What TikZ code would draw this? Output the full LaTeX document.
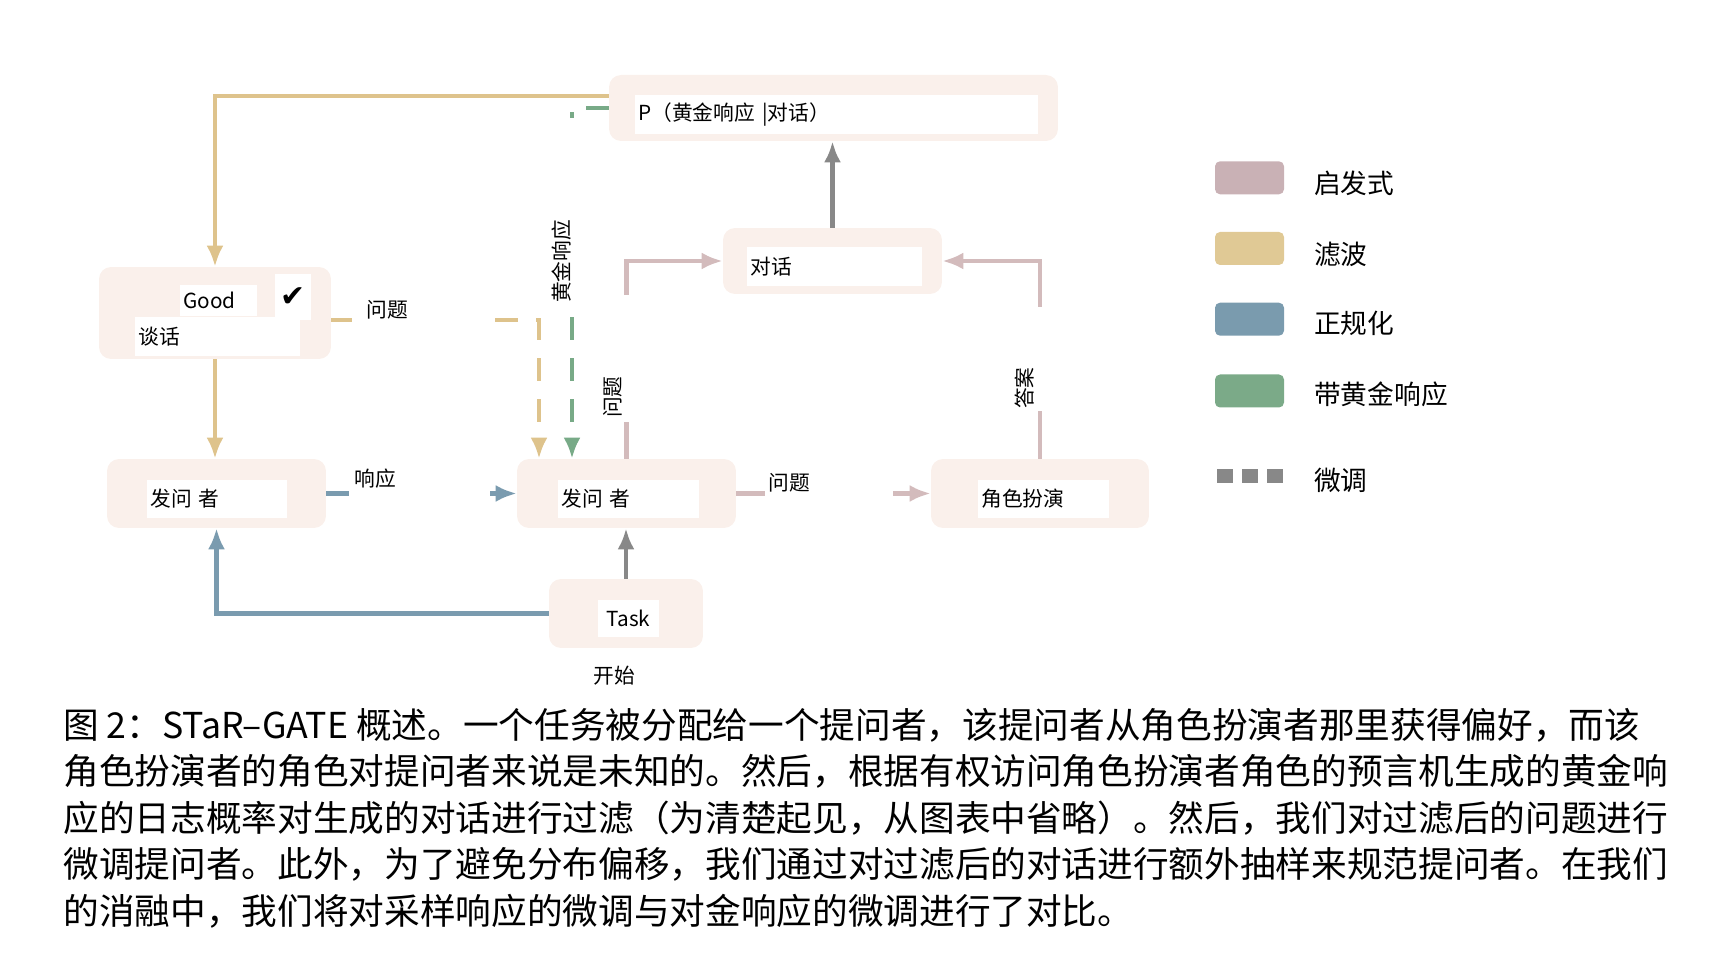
\documentclass[tikz,border=0pt]{standalone}
\usepackage{fontspec}
\setmainfont{Noto Sans CJK SC}
\newfontfamily\symfont{DejaVu Sans}
\usetikzlibrary{arrows.meta}

\definecolor{boxbg}{HTML}{FAF0EB}
\definecolor{heurpink}{HTML}{D3BBBC}
\definecolor{filtyellow}{HTML}{DEC38C}
\definecolor{regblue}{HTML}{7A9BAF}
\definecolor{goldgreen}{HTML}{78AA87}
\definecolor{tunegray}{HTML}{888888}
\definecolor{lgpink}{HTML}{C9B1B5}
\definecolor{lgyellow}{HTML}{E0C995}
\definecolor{lgblue}{HTML}{7A9BAE}
\definecolor{lggreen}{HTML}{7BAA88}

\begin{document}
\begin{tikzpicture}[x=0.02cm, y=-0.02cm, >={Latex[length=0.42cm, width=0.34cm]},
    font=\fontsize{11.8}{14}\selectfont,
    outer/.style={fill=boxbg, rounded corners=0.24cm, inner sep=0pt, minimum height=1.38cm},
    inrect/.style={fill=white, anchor=west, inner xsep=0.06cm, inner ysep=0pt, minimum height=0.78cm, align=left},
    flow/.style={line width=2.3pt},
    tune/.style={dash pattern=on 0.46cm off 0.36cm},
    lbl/.style={fill=white, inner ysep=0pt, align=left},
    swatch/.style={rounded corners=0.1cm, minimum width=1.38cm, minimum height=0.66cm, inner sep=0pt},
    legtext/.style={anchor=west, font=\fontsize{15.2}{18}\selectfont}]
    % 画布范围
    \useasboundingbox (0,0) rectangle (1732,962);

    % 1. 各个框
    \node[outer, minimum width=8.98cm, minimum height=1.32cm] (prob) at (833.5,108) {};
    \node[inrect, text width=7.94cm] (probtxt) at (635,114.5) {P（黄金响应 |对话）};

    \node[outer, minimum width=4.38cm, minimum height=1.32cm] (dlg) at (832.5,261) {};
    \node[inrect, text width=3.38cm] (dlgtxt) at (747,266.5) {对话};

    \node[outer, minimum width=4.64cm, minimum height=1.84cm] (good) at (215,313) {};
    \node[inrect, text width=1.42cm, minimum height=0.62cm] (goodtxt) at (180,300.5) {Good};
    \node[inrect, text width=3.18cm] (talktxt) at (135,336.5) {谈话};
    \node[fill=white, minimum width=0.72cm, minimum height=0.92cm, inner sep=0pt,
          font=\symfont\fontsize{17}{17}\selectfont] (checktxt) at (293,297) {✔};

    \node[outer, minimum width=4.38cm] (q1) at (216.5,493.5) {};
    \node[inrect, text width=2.68cm] (q1txt) at (147,499) {发问 者};

    \node[outer, minimum width=4.38cm] (q2) at (626.5,493.5) {};
    \node[inrect, text width=2.70cm] (q2txt) at (558,499) {发问 者};

    \node[outer, minimum width=4.36cm] (rp) at (1040,493.5) {};
    \node[inrect, text width=2.50cm] (rptxt) at (978,499) {角色扮演};

    \node[outer, minimum width=3.08cm] (tk) at (626,613.5) {};
    \node[fill=white, minimum width=1.22cm, minimum height=0.74cm, inner sep=0pt] (tktxt) at (628.5,618.5) {Task};
    \node (startlab) at (614,676) {开始};

    % 2. 连线
    \draw[flow, filtyellow, ->] ([yshift=0.24cm]prob.west) -| (good.north);
    \draw[flow, goldgreen, tune, ->] (prob.west) -| ([xshift=-1.09cm]q2.north);
    \draw[flow, filtyellow, tune, ->] ([yshift=-0.14cm]good.east) -| ([xshift=-1.75cm]q2.north);
    \draw[flow, filtyellow, ->] (good.south) -- (good.south |- q1.north);
    \draw[flow, regblue, ->] (tk.west) -| (q1.south);
    \draw[flow, regblue, tune, ->] (q1.east) -- (q2.west);
    \draw[flow, tunegray, line width=2.6pt, ->] (tk.north) -- (tk.north |- q2.south);
    \draw[flow, tunegray, line width=2.6pt, ->] (dlg.north) -- (dlg.north |- prob.south);
    \draw[flow, heurpink, ->] (q2.north) |- (dlg.west);
    \draw[flow, heurpink, ->] (rp.north) |- (dlg.east);
    \draw[flow, heurpink, ->] (q2.east) -- (rp.west);

    % 3. 连线上的标签
    \node[lbl, anchor=west, text width=2.14cm, inner xsep=0.28cm, minimum height=0.9cm] (qlab1) at (352,310) {问题};
    \node[lbl, rotate=90, text width=3.66cm, inner xsep=0.04cm, minimum height=0.7cm] (goldlab) at (562,211.5) {黄金响应};
    \node[lbl, rotate=90, text width=2.38cm, inner xsep=0.08cm, minimum height=0.8cm] (qlab2) at (613,358.5) {问题};
    \node[lbl, rotate=90, text width=2.0cm, inner xsep=0.04cm, minimum height=0.9cm] (anslab) at (1025,359) {答案};
    \node[lbl, anchor=west, text width=2.5cm, inner xsep=0.08cm, minimum height=0.9cm] (resplab) at (350,479) {响应};
    \node[lbl, anchor=west, text width=2.44cm, inner xsep=0.06cm, minimum height=0.9cm] (qlab3) at (765,483) {问题};

    % 4. 图例
    \node[swatch, fill=lgpink] (sw1) at (1249.5,177.8) {};
    \node[swatch, fill=lgyellow] (sw2) at (1249.5,248.5) {};
    \node[swatch, fill=lgblue] (sw3) at (1249.5,319.2) {};
    \node[swatch, fill=lggreen] (sw4) at (1249.5,391) {};
    \coordinate (dashl) at (1217,476);
    \coordinate (dashr) at (1284,476);
    \draw[tunegray, line width=0.28cm, dash pattern=on 0.32cm off 0.18cm] (dashl) -- (dashr);

    \node[legtext] (lt1) at (1308,183.4) {启发式};
    \node[legtext] (lt2) at (1308,254) {滤波};
    \node[legtext] (lt3) at (1308,323.6) {正规化};
    \node[legtext] (lt4) at (1308,394.3) {带黄金响应};
    \node[legtext] (lt5) at (1308,480.5) {微调};

    % 5. 图注
    \node[anchor=base west, align=left, inner sep=0pt, font=\fontsize{20.3}{26.4}\selectfont] (caption) at (63,924)
        {图 2：STaR–GATE 概述。一个任务被分配给一个提问者，该提问者从角色扮演者那里获得偏好，而该\\
         角色扮演者的角色对提问者来说是未知的。然后，根据有权访问角色扮演者角色的预言机生成的黄金响\\
         应的日志概率对生成的对话进行过滤（为清楚起见，从图表中省略）。然后，我们对过滤后的问题进行\\
         微调提问者。此外，为了避免分布偏移，我们通过对过滤后的对话进行额外抽样来规范提问者。在我们\\
         的消融中，我们将对采样响应的微调与对金响应的微调进行了对比。};

\end{tikzpicture}
\end{document}
